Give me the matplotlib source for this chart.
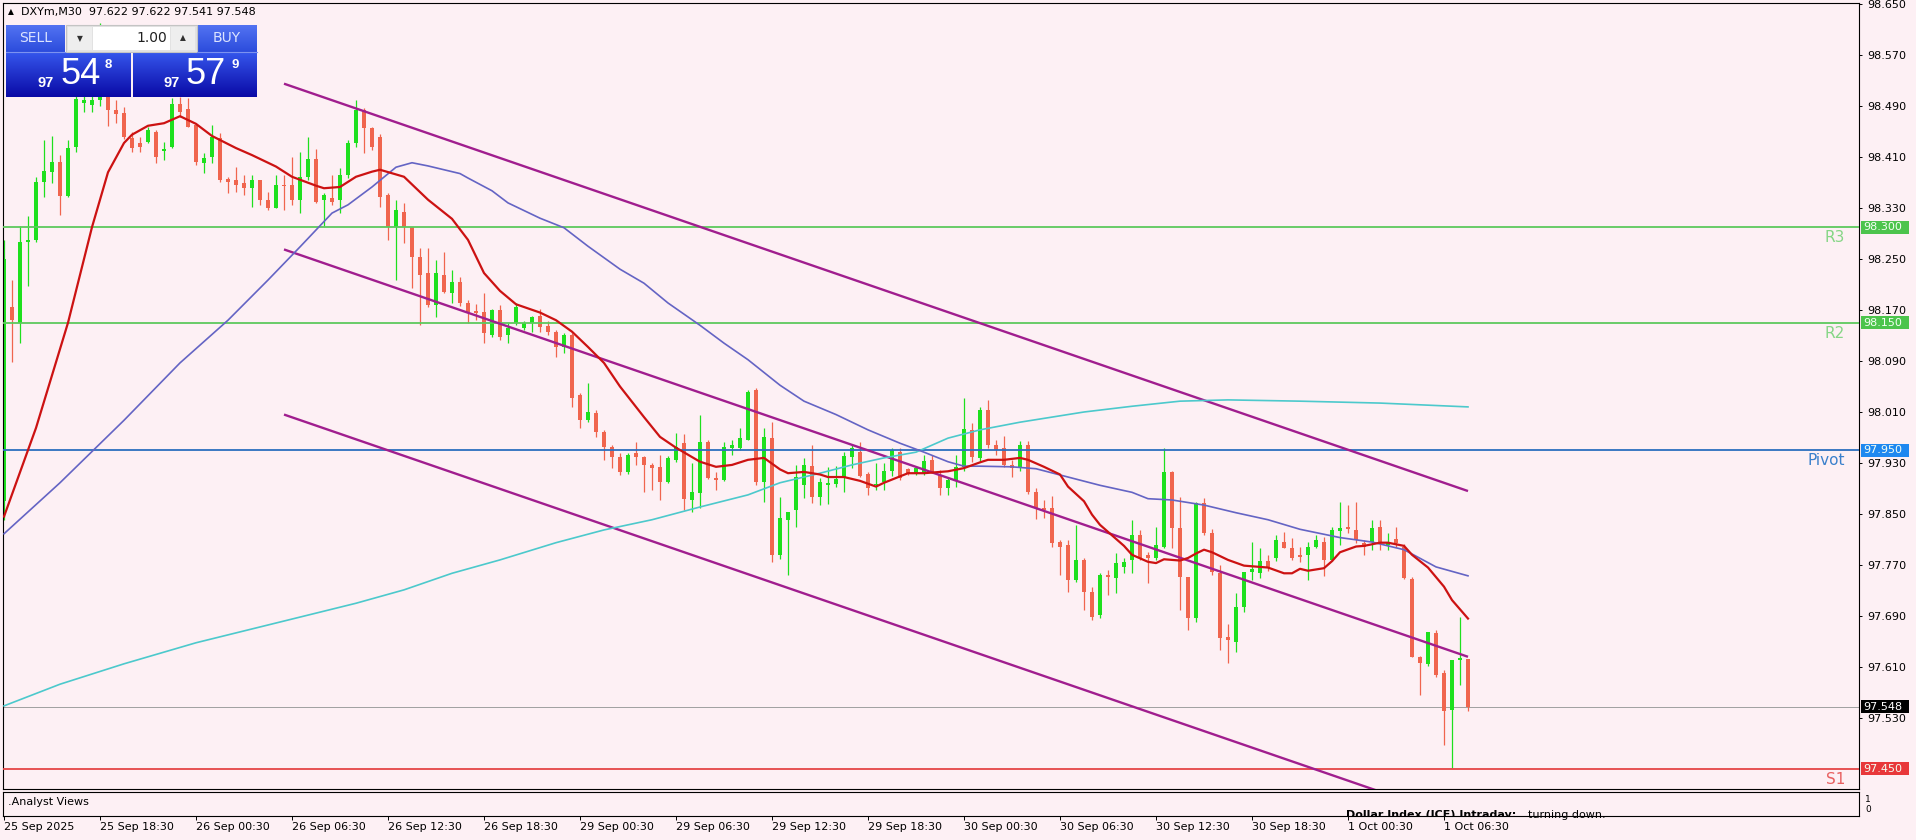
import matplotlib
matplotlib.use('Agg')
import matplotlib.pyplot as plt
import matplotlib.colors as mcolors
import matplotlib.transforms as mtransforms
from matplotlib.patches import Rectangle
import numpy as np

# ---------------- DATA (DXYm, M30) ----------------
opens = [
    97.870, 98.175, 98.149, 98.276, 98.280, 98.370, 98.386, 98.402, 98.349, 98.426,
    98.494, 98.492, 98.500, 98.520, 98.484, 98.479, 98.440, 98.432, 98.433, 98.449,
    98.419, 98.426, 98.493, 98.485, 98.460, 98.400, 98.410, 98.440, 98.375, 98.374,
    98.369, 98.361, 98.374, 98.343, 98.330, 98.366, 98.366, 98.343, 98.379, 98.407,
    98.343, 98.346, 98.343, 98.382, 98.432, 98.484, 98.455, 98.441, 98.350, 98.300,
    98.324, 98.300, 98.253, 98.228, 98.178, 98.225, 98.197, 98.214, 98.181, 98.168,
    98.167, 98.131, 98.170, 98.131, 98.150, 98.142, 98.150, 98.161, 98.145, 98.136,
    98.112, 98.131, 98.037, 97.997, 98.008, 97.979, 97.955, 97.939, 97.916, 97.946,
    97.939, 97.927, 97.924, 97.900, 97.935, 97.961, 97.872, 97.883, 97.963, 97.906,
    97.903, 97.953, 97.953, 97.966, 98.044, 97.900, 97.969, 97.786, 97.841, 97.856,
    97.896, 97.925, 97.877, 97.896, 97.897, 97.908, 97.939, 97.947, 97.913, 97.895,
    97.900, 97.918, 97.947, 97.921, 97.914, 97.913, 97.935, 97.911, 97.891, 97.903,
    97.924, 97.982, 97.938, 98.013, 97.958, 97.953, 97.927, 97.922, 97.958, 97.884,
    97.859, 97.859, 97.806, 97.801, 97.746, 97.778, 97.728, 97.692, 97.754, 97.750,
    97.767, 97.778, 97.817, 97.786, 97.781, 97.798, 97.916, 97.828, 97.751, 97.687,
    97.867, 97.820, 97.757, 97.657, 97.649, 97.704, 97.759, 97.757, 97.776, 97.781,
    97.806, 97.797, 97.786, 97.786, 97.798, 97.806, 97.778, 97.823, 97.830, 97.825,
    97.804, 97.806, 97.830, 97.801, 97.811, 97.798, 97.748, 97.626, 97.615, 97.663,
    97.601, 97.543, 97.621, 97.622,
]
highs = [
    98.280, 98.217, 98.301, 98.317, 98.379, 98.437, 98.443, 98.413, 98.437, 98.530,
    98.530, 98.540, 98.620, 98.530, 98.499, 98.488, 98.449, 98.441, 98.457, 98.452,
    98.434, 98.503, 98.504, 98.503, 98.462, 98.416, 98.460, 98.448, 98.379, 98.395,
    98.381, 98.382, 98.374, 98.355, 98.381, 98.382, 98.410, 98.418, 98.441, 98.422,
    98.353, 98.382, 98.393, 98.437, 98.499, 98.487, 98.457, 98.446, 98.353, 98.342,
    98.338, 98.300, 98.267, 98.267, 98.248, 98.261, 98.233, 98.222, 98.186, 98.180,
    98.197, 98.172, 98.178, 98.150, 98.181, 98.153, 98.160, 98.171, 98.152, 98.139,
    98.134, 98.134, 98.040, 98.055, 98.013, 97.981, 97.958, 97.946, 97.945, 97.963,
    97.941, 97.930, 97.942, 97.941, 97.977, 97.975, 97.930, 98.005, 97.966, 97.916,
    97.963, 97.966, 97.985, 98.044, 98.047, 97.985, 97.994, 97.877, 97.853, 97.927,
    97.938, 97.958, 97.906, 97.924, 97.926, 97.948, 97.958, 97.963, 97.916, 97.930,
    97.930, 97.953, 97.953, 97.922, 97.924, 97.942, 97.942, 97.919, 97.908, 97.942,
    98.032, 97.993, 98.018, 98.029, 97.966, 97.972, 97.935, 97.964, 97.964, 97.890,
    97.872, 97.878, 97.809, 97.809, 97.833, 97.781, 97.735, 97.757, 97.762, 97.789,
    97.781, 97.841, 97.825, 97.791, 97.830, 97.954, 97.918, 97.877, 97.751, 97.869,
    97.875, 97.826, 97.770, 97.678, 97.726, 97.759, 97.806, 97.796, 97.786, 97.817,
    97.822, 97.812, 97.798, 97.806, 97.817, 97.814, 97.830, 97.869, 97.864, 97.869,
    97.809, 97.840, 97.840, 97.820, 97.830, 97.803, 97.751, 97.627, 97.665, 97.668,
    97.606, 97.621, 97.688, 97.622,
]
lows = [
    97.840, 98.089, 98.118, 98.207, 98.277, 98.348, 98.369, 98.319, 98.348, 98.418,
    98.481, 98.480, 98.490, 98.459, 98.463, 98.438, 98.418, 98.418, 98.432, 98.401,
    98.405, 98.424, 98.473, 98.457, 98.398, 98.385, 98.401, 98.371, 98.354, 98.355,
    98.350, 98.332, 98.335, 98.327, 98.330, 98.327, 98.335, 98.322, 98.374, 98.338,
    98.301, 98.335, 98.322, 98.377, 98.425, 98.416, 98.421, 98.332, 98.280, 98.217,
    98.275, 98.205, 98.146, 98.175, 98.159, 98.197, 98.181, 98.177, 98.150, 98.155,
    98.118, 98.127, 98.123, 98.118, 98.146, 98.138, 98.136, 98.136, 98.131, 98.096,
    98.102, 98.018, 97.985, 97.995, 97.971, 97.935, 97.922, 97.911, 97.913, 97.927,
    97.884, 97.888, 97.872, 97.898, 97.932, 97.856, 97.853, 97.859, 97.905, 97.888,
    97.901, 97.943, 97.950, 97.966, 97.895, 97.869, 97.775, 97.780, 97.754, 97.830,
    97.875, 97.867, 97.864, 97.866, 97.893, 97.884, 97.922, 97.908, 97.880, 97.888,
    97.888, 97.909, 97.903, 97.911, 97.911, 97.911, 97.914, 97.880, 97.880, 97.892,
    97.918, 97.932, 97.932, 97.953, 97.942, 97.924, 97.908, 97.917, 97.882, 97.842,
    97.843, 97.798, 97.754, 97.728, 97.743, 97.700, 97.684, 97.687, 97.723, 97.726,
    97.757, 97.757, 97.778, 97.742, 97.778, 97.796, 97.796, 97.699, 97.668, 97.681,
    97.817, 97.755, 97.637, 97.616, 97.634, 97.697, 97.746, 97.750, 97.761, 97.777,
    97.796, 97.778, 97.775, 97.746, 97.796, 97.752, 97.776, 97.801, 97.820, 97.804,
    97.786, 97.793, 97.793, 97.793, 97.798, 97.748, 97.625, 97.566, 97.611, 97.595,
    97.488, 97.452, 97.582, 97.541,
]
closes = [
    98.250, 98.154, 98.276, 98.280, 98.371, 98.388, 98.402, 98.349, 98.424, 98.501,
    98.500, 98.500, 98.520, 98.484, 98.477, 98.441, 98.424, 98.426, 98.452, 98.410,
    98.423, 98.493, 98.481, 98.457, 98.402, 98.408, 98.441, 98.374, 98.371, 98.366,
    98.361, 98.374, 98.343, 98.330, 98.366, 98.364, 98.343, 98.379, 98.407, 98.339,
    98.350, 98.339, 98.382, 98.432, 98.484, 98.455, 98.426, 98.348, 98.300, 98.327,
    98.300, 98.253, 98.225, 98.178, 98.228, 98.198, 98.214, 98.181, 98.167, 98.165,
    98.134, 98.170, 98.128, 98.142, 98.175, 98.150, 98.159, 98.143, 98.136, 98.112,
    98.131, 98.032, 97.997, 98.010, 97.979, 97.955, 97.939, 97.916, 97.942, 97.939,
    97.927, 97.922, 97.900, 97.938, 97.955, 97.874, 97.884, 97.963, 97.906, 97.903,
    97.955, 97.958, 97.969, 98.041, 97.900, 97.971, 97.786, 97.844, 97.853, 97.908,
    97.927, 97.877, 97.900, 97.899, 97.905, 97.941, 97.953, 97.910, 97.891, 97.897,
    97.918, 97.951, 97.906, 97.914, 97.922, 97.933, 97.916, 97.891, 97.903, 97.924,
    97.983, 97.940, 98.013, 97.958, 97.950, 97.927, 97.922, 97.958, 97.884, 97.859,
    97.857, 97.804, 97.798, 97.746, 97.778, 97.728, 97.688, 97.754, 97.751, 97.773,
    97.775, 97.817, 97.781, 97.781, 97.801, 97.916, 97.828, 97.751, 97.687, 97.867,
    97.820, 97.759, 97.655, 97.652, 97.704, 97.759, 97.764, 97.776, 97.767, 97.809,
    97.797, 97.781, 97.783, 97.798, 97.809, 97.778, 97.825, 97.828, 97.826, 97.809,
    97.798, 97.828, 97.804, 97.806, 97.804, 97.749, 97.626, 97.616, 97.665, 97.597,
    97.541, 97.621, 97.624, 97.548,
]

# moving averages (bar index, price)
ma_fast_bar = [0, 4, 8, 11, 13, 15, 16, 18, 20, 22, 24, 26, 29, 31, 34, 36, 39, 40, 42, 44,
               46, 47, 50, 53, 56, 58, 60, 62, 64, 67, 69, 71, 73, 75, 77, 80, 82, 84, 87, 89,
               91, 93, 95, 97, 98, 100, 102, 103, 105, 107, 109, 110, 112, 113, 115, 117, 118,
               120, 122, 123, 125, 127, 128, 130, 132, 133, 135, 136, 137, 138, 140, 141, 143,
               144, 145, 147, 148, 149, 150, 151, 153, 155, 156, 158, 160, 161, 162, 163, 165,
               166, 167, 169, 170, 172, 173, 175, 176, 178, 180, 181, 183]
ma_fast_val = [97.846, 97.985, 98.150, 98.300, 98.386, 98.432, 98.445, 98.459, 98.463, 98.474,
               98.462, 98.443, 98.424, 98.413, 98.395, 98.379, 98.365, 98.361, 98.363, 98.379,
               98.387, 98.390, 98.379, 98.343, 98.313, 98.280, 98.228, 98.200, 98.179, 98.166,
               98.154, 98.136, 98.112, 98.087, 98.050, 98.002, 97.971, 97.954, 97.932, 97.924,
               97.927, 97.935, 97.938, 97.920, 97.914, 97.916, 97.912, 97.908, 97.908, 97.902,
               97.893, 97.899, 97.909, 97.914, 97.914, 97.916, 97.917, 97.922, 97.931, 97.935,
               97.935, 97.938, 97.935, 97.924, 97.912, 97.893, 97.870, 97.849, 97.833, 97.822,
               97.800, 97.786, 97.775, 97.773, 97.779, 97.777, 97.781, 97.788, 97.794, 97.790,
               97.778, 97.769, 97.768, 97.766, 97.757, 97.757, 97.764, 97.761, 97.765, 97.776,
               97.790, 97.799, 97.800, 97.805, 97.805, 97.800, 97.786, 97.766, 97.736, 97.715,
               97.686]
ma_mid_bar = [0, 7, 15, 22, 28, 33, 37, 41, 43, 46, 49, 51, 53, 57, 58, 61, 63, 67, 70, 73,
              77, 80, 83, 87, 90, 93, 97, 100, 104, 108, 112, 115, 118, 120, 122, 126, 129,
              133, 137, 141, 143, 146, 150, 154, 158, 162, 167, 171, 175, 179, 183]
ma_mid_val = [97.819, 97.899, 97.997, 98.087, 98.154, 98.217, 98.269, 98.322, 98.335, 98.363,
              98.394, 98.401, 98.396, 98.384, 98.377, 98.357, 98.338, 98.314, 98.299, 98.270,
              98.234, 98.212, 98.181, 98.146, 98.118, 98.092, 98.052, 98.027, 98.006, 97.982,
              97.961, 97.947, 97.932, 97.925, 97.925, 97.924, 97.921, 97.908, 97.895, 97.884,
              97.874, 97.872, 97.864, 97.852, 97.841, 97.826, 97.813, 97.806, 97.794, 97.767,
              97.753]
ma_slow_bar = [0, 7, 15, 24, 34, 44, 50, 56, 62, 69, 75, 81, 87, 93, 97, 102, 106, 110, 114,
               118, 122, 127, 131, 135, 141, 147, 153, 162, 172, 183]
ma_slow_val = [97.549, 97.583, 97.615, 97.648, 97.679, 97.710, 97.731, 97.757, 97.778, 97.805,
               97.825, 97.841, 97.861, 97.880, 97.899, 97.914, 97.927, 97.938, 97.947, 97.969,
               97.982, 97.994, 98.002, 98.010, 98.019, 98.027, 98.029, 98.027, 98.024, 98.018]

# regression channel (start bar, end bar) and prices
channel_bars = [35, 183]
channel_upper = [98.525, 97.886]
channel_middle = [98.265, 97.626]
channel_lower = [98.006, 97.367]

# pivot levels
level_names = ['R3', 'R2', 'Pivot', 'S1']
level_prices = [98.300, 98.150, 97.950, 97.450]
level_colors = ['#5DC95D', '#5DC95D', '#2B6FBE', '#E54545']
level_text_colors = ['#86D686', '#86D686', '#3A80CC', '#E86060']
level_tag_colors = ['#4CC44C', '#4CC44C', '#1E88F0', '#E8383A']

last_price = 97.548
price_ticks = [97.530, 97.610, 97.690, 97.770, 97.850, 97.930, 98.010, 98.090,
               98.170, 98.250, 98.330, 98.410, 98.490, 98.570, 98.650]
time_tick_bars = [0, 12, 24, 36, 48, 60, 72, 84, 96, 108, 120, 132, 144, 156, 168, 180]
time_tick_labels = ['25 Sep 2025', '25 Sep 18:30', '26 Sep 00:30', '26 Sep 06:30',
                    '26 Sep 12:30', '26 Sep 18:30', '29 Sep 00:30', '29 Sep 06:30',
                    '29 Sep 12:30', '29 Sep 18:30', '30 Sep 00:30', '30 Sep 06:30',
                    '30 Sep 12:30', '30 Sep 18:30', '1 Oct 00:30', '1 Oct 06:30']

# ---------------- FIGURE ----------------
W, H, DPI = 1916, 840, 100
BG = '#FDF0F4'
UP = '#1EE01E'
DOWN = '#F0654E'
plt.rcParams['font.family'] = ['DejaVu Sans']

fig = plt.figure(figsize=(W / DPI, H / DPI), dpi=DPI, facecolor=BG)


def frect(x0, y0, x1, y1):
    return [x0 / W, 1 - y1 / H, (x1 - x0) / W, (y1 - y0) / H]


X0, X1, Y0, Y1 = 3, 1859, 3, 789
PX_PER_BAR = 8.0
PX_PER_PRICE = 637.5
ax = fig.add_axes(frect(X0, Y0, X1, Y1))
ax.set_facecolor(BG)
ax.set_xlim((X0 - 4) / PX_PER_BAR, (X1 - 4) / PX_PER_BAR)
top_price = 98.650 + (4 - Y0) / PX_PER_PRICE
ax.set_ylim(top_price - (Y1 - Y0) / PX_PER_PRICE, top_price)
for s in ax.spines.values():
    s.set_color('black')
    s.set_linewidth(0.8)

o = np.array(opens)
c = np.array(closes)
hi = np.maximum(np.array(highs), np.maximum(o, c))
lo = np.minimum(np.array(lows), np.minimum(o, c))
xb = np.arange(len(o))
cols = np.where(c >= o, UP, DOWN)

ax.axhline(last_price, color='#A0A0A0', lw=0.7, zorder=1)
ax.vlines(xb, lo, hi, colors=cols, linewidth=0.9, zorder=2)
ax.bar(xb, np.maximum(np.abs(c - o), 1.2 / PX_PER_PRICE), bottom=np.minimum(o, c),
       width=0.62, color=cols, linewidth=0, zorder=2.5)

for p, col in zip(level_prices, level_colors):
    ax.axhline(p, color=col, lw=1.3, zorder=3)

for yy in (channel_upper, channel_middle, channel_lower):
    ax.plot(channel_bars, yy, color='#A01E8E', lw=1.7, zorder=4, solid_capstyle='butt')

ax.plot(ma_slow_bar, ma_slow_val, color='#4CC9CC', lw=1.2, zorder=4.2)
ax.plot(ma_mid_bar, ma_mid_val, color='#6464C4', lw=1.2, zorder=4.3)
ax.plot(ma_fast_bar, ma_fast_val, color='#CC1212', lw=1.6, zorder=4.5)

# level labels inside the chart
for name, p, tc in zip(level_names, level_prices, level_text_colors):
    ax.annotate(name, xy=(1, p), xycoords=('axes fraction', 'data'), xytext=(-14, -3),
                textcoords='offset pixels', ha='right', va='top', color=tc, fontsize=11,
                zorder=5)

# right price axis
ax.yaxis.tick_right()
ax.set_yticks(price_ticks)
ax.set_yticklabels([f'{v:.3f}' for v in price_ticks])
ax.tick_params(axis='y', direction='out', length=2.5, width=0.7, pad=3.5, labelsize=8,
               colors='black')
ax.set_xticks([])

blend = mtransforms.blended_transform_factory(ax.transAxes, ax.transData)
axw = X1 - X0


def price_tag(p, text, fc, tc):
    ax.add_patch(Rectangle((1 + 2 / axw, p - 6.5 / PX_PER_PRICE), 48 / axw, 13 / PX_PER_PRICE,
                           transform=blend, facecolor=fc, edgecolor='none', clip_on=False,
                           zorder=6))
    ax.text(1 + 4 / axw, p, text, transform=blend, color=tc, fontsize=8, ha='left',
            va='center', clip_on=False, zorder=7)


for p, tcol in zip(level_prices, level_tag_colors):
    price_tag(p, f'{p:.3f}', tcol, '#F4FFF4')
price_tag(last_price, f'{last_price:.3f}', '#000000', 'white')

# ---------------- indicator sub-window ----------------
ax2 = fig.add_axes(frect(X0, 792, X1, 816))
ax2.set_facecolor(BG)
ax2.set_xlim(ax.get_xlim())
ax2.set_ylim(0, 1)
ax2.set_yticks([])
for s in ax2.spines.values():
    s.set_color('black')
    s.set_linewidth(0.8)
ax2.set_xticks(time_tick_bars)
ax2.set_xticklabels(time_tick_labels, ha='left', fontsize=8)
ax2.tick_params(axis='x', direction='out', length=3, width=0.7, pad=1.5, colors='black')

fig.text(8 / W, 1 - 802 / H, '.Analyst Views', fontsize=8, va='center', ha='left')
t1 = ax2.text(1346 / W, 1 - 818.5 / H, 'Dollar Index (ICE) Intraday:', transform=fig.transFigure,
              fontsize=8, fontweight='bold', va='baseline', ha='left', clip_on=True)
t2 = ax2.annotate('turning down.', xy=(1, 0), xycoords=t1, xytext=(12, 0),
                  textcoords='offset pixels', fontsize=8, va='bottom', ha='left')
t2.set_clip_on(True)
fig.text(1865 / W, 1 - 800 / H, '1', fontsize=6.5, va='center', ha='left')
fig.text(1865 / W, 1 - 809 / H, '0', fontsize=6.5, va='center', ha='left')

# ---------------- header + one-click trading panel ----------------
fig.text(8 / W, 1 - 12 / H, '\u25b2', fontsize=5.5, va='center', ha='left')
fig.text(21 / W, 1 - 12.5 / H, 'DXYm,M30  97.622 97.622 97.541 97.548', fontsize=8,
         va='center', ha='left')

ov = fig.add_axes([0, 0, 1, 1], zorder=10)
ov.axis('off')


def grad(x0, y0, x1, y1, c0, c1):
    a = np.array(mcolors.to_rgb(c0))
    b = np.array(mcolors.to_rgb(c1))
    t = np.linspace(0, 1, 64)[:, None]
    img = (a * (1 - t) + b * t)[:, None, :]
    ov.imshow(img, extent=(x0, x1, y1, y0), aspect='auto', interpolation='bilinear', zorder=1)


grad(6, 25, 65, 52, '#5273F2', '#2C4CDC')
grad(197, 25, 257, 52, '#5273F2', '#2C4CDC')
grad(6, 52, 131, 97, '#3556EC', '#0A0AA6')
grad(133, 52, 257, 97, '#3556EC', '#0A0AA6')
ov.add_patch(Rectangle((66, 25), 131, 27, facecolor='#E2E2E2', edgecolor='#C4C4C4', lw=0.8,
                       zorder=2))
ov.add_patch(Rectangle((68, 27), 24, 23, facecolor='#EEEEEE', edgecolor='none', zorder=3))
ov.add_patch(Rectangle((93, 27), 77, 23, facecolor='white', edgecolor='none', zorder=3))
ov.add_patch(Rectangle((171, 27), 24, 23, facecolor='#EEEEEE', edgecolor='none', zorder=3))
ov.plot([6, 65], [52, 52], color='#7C92F0', lw=0.8, zorder=4)
ov.plot([197, 257], [52, 52], color='#7C92F0', lw=0.8, zorder=4)
ov.text(80, 39, '\u25bc', fontsize=5.5, color='#303030', ha='center', va='center', zorder=5)
ov.text(183, 38, '\u25b2', fontsize=5.5, color='#303030', ha='center', va='center', zorder=5)
ov.text(167, 38.5, '1.00', fontsize=10, color='#202020', ha='right', va='center', zorder=5)
ov.text(35.5, 38.5, 'SELL', fontsize=10, color='#DCE4FF', ha='center', va='center', zorder=5)
ov.text(227, 38.5, 'BUY', fontsize=10, color='#DCE4FF', ha='center', va='center', zorder=5)
bigfont = dict(family=['Liberation Sans', 'DejaVu Sans'], color='white', zorder=5)
ov.text(46, 83, '97', fontsize=10.5, fontweight='bold', ha='center', va='center', **bigfont)
ov.text(81, 75, '54', fontsize=26, ha='center', va='center', **bigfont)
ov.text(108.5, 65, '8', fontsize=9.5, fontweight='bold', ha='center', va='center', **bigfont)
ov.text(172, 83, '97', fontsize=10.5, fontweight='bold', ha='center', va='center', **bigfont)
ov.text(206, 75, '57', fontsize=26, ha='center', va='center', **bigfont)
ov.text(235.5, 65, '9', fontsize=9.5, fontweight='bold', ha='center', va='center', **bigfont)
ov.set_xlim(0, W)
ov.set_ylim(H, 0)

fig.savefig('out.png', dpi=DPI, facecolor=BG)
